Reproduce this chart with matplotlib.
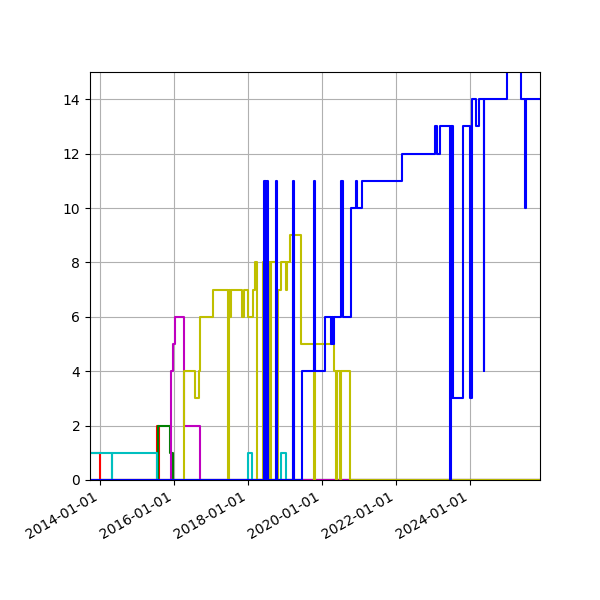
import matplotlib
matplotlib.use("Agg")
import matplotlib.pyplot as plt
import matplotlib.dates as mdates
import pandas as pd

# (decimal year, count) step points
red_t = [2013.70, 2014.00, 2015.55, 2015.60]
red_v = [1, 0, 2, 0]

green_t = [2013.70, 2015.57, 2015.89, 2015.97]
green_v = [0, 2, 1, 0]

cyan_t = [2013.70, 2014.32, 2014.33, 2015.55, 2018.00, 2018.12, 2018.90, 2019.02]
cyan_v = [1, 0, 1, 0, 1, 0, 1, 0]

magenta_t = [2013.70, 2015.92, 2015.97, 2016.02, 2016.27, 2016.70]
magenta_v = [0, 4, 5, 6, 2, 0]

yellow_t = [2013.70, 2016.27, 2016.57, 2016.68, 2016.70, 2017.05, 2017.46, 2017.49,
            2017.52, 2017.55, 2017.85, 2017.88, 2018.00, 2018.14, 2018.19, 2018.24,
            2018.41, 2018.43, 2018.46, 2018.50, 2018.58, 2018.60, 2018.62, 2018.76,
            2018.80, 2018.89, 2019.03, 2019.05, 2019.14, 2019.21, 2019.25, 2019.43,
            2019.78, 2019.81, 2020.32, 2020.38, 2020.41, 2020.49, 2020.51, 2020.76]
yellow_v = [0, 4, 3, 4, 6, 7, 0, 7,
            6, 7, 6, 7, 6, 7, 8, 0,
            8, 0, 8, 0, 8, 0, 8, 0,
            7, 8, 7, 8, 9, 0, 9, 5,
            0, 5, 4, 0, 4, 0, 4, 0]

blue_t = [2013.70, 2018.43, 2018.45, 2018.47, 2018.49, 2018.52, 2018.55, 2018.76,
          2018.78, 2019.21, 2019.24, 2019.46, 2019.78, 2019.80, 2020.08, 2020.24,
          2020.27, 2020.30, 2020.32, 2020.51, 2020.57, 2020.78, 2020.93, 2020.95,
          2021.08, 2022.16, 2023.05, 2023.11, 2023.19, 2023.46, 2023.48, 2023.50,
          2023.52, 2023.54, 2023.81, 2024.00, 2024.05, 2024.16, 2024.24, 2024.37,
          2024.39, 2025.00, 2025.38, 2025.48, 2025.50]
blue_v = [0, 11, 0, 11, 0, 11, 0, 11,
          0, 11, 0, 4, 11, 4, 6, 5,
          6, 5, 6, 11, 6, 10, 11, 10,
          11, 12, 13, 12, 13, 0, 13, 3,
          13, 3, 13, 3, 14, 13, 14, 4,
          14, 16, 14, 10, 14]

series = [(red_t, red_v, "r"), (green_t, green_v, "g"), (cyan_t, cyan_v, "c"),
          (magenta_t, magenta_v, "m"), (yellow_t, yellow_v, "y"), (blue_t, blue_v, "b")]


def to_dates(years):
    base = pd.Timestamp("2014-01-01")
    return [base + pd.Timedelta(days=(y - 2014) * 365.25) for y in years]


fig, ax = plt.subplots(figsize=(6, 6), dpi=100)
end = to_dates([2025.95])[0]
for t, v, c in series:
    d = to_dates(t) + [end]
    ax.plot(d, v + [v[-1]], color=c, drawstyle="steps-post", lw=1.5)

ax.set_ylim(0, 15)
ax.set_xlim(to_dates([2013.73])[0], to_dates([2025.89])[0])
ax.xaxis.set_major_locator(mdates.YearLocator(2))
ax.xaxis.set_major_formatter(mdates.DateFormatter("%Y-%m-%d"))
ax.grid(True)
fig.subplots_adjust(left=0.15, right=0.9, top=0.88, bottom=0.2)
fig.autofmt_xdate()
fig.savefig("out.png")
